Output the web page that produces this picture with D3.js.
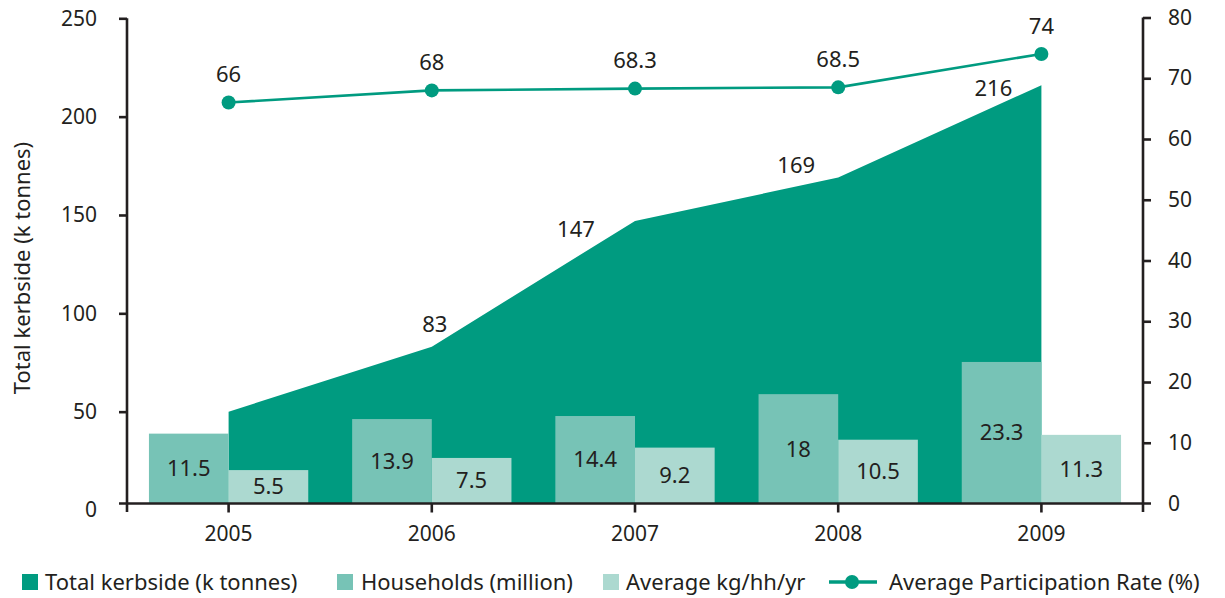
<!DOCTYPE html>
<html><head><meta charset="utf-8">
<script src="https://cdn.jsdelivr.net/npm/d3@7"></script>
<style>
body{margin:0;background:#fff}
text{font-family:"Noto Sans",sans-serif;fill:#231f20}
</style>
</head><body>
<svg id="c" width="1225" height="598"></svg>
<script>
// ---- data ----
const years = ["2005", "2006", "2007", "2008", "2009"];
const totalKerbside = [50, 83, 147, 169, 216];          // k tonnes (left axis)
const households = [11.5, 13.9, 14.4, 18, 23.3];         // million (right axis)
const avgKg = [5.5, 7.5, 9.2, 10.5, 11.3];               // kg/hh/yr (right axis)
const participation = [66, 68, 68.3, 68.5, 74];          // % (right axis)
const leftTicks = [0, 50, 100, 150, 200, 250];
const rightTicks = [0, 10, 20, 30, 40, 50, 60, 70, 80];
const totalLabelShown = [false, true, true, true, true];
const legendLabels = ["Total kerbside (k tonnes)", "Households (million)", "Average kg/hh/yr", "Average Participation Rate (%)"];

// ---- layout / style (not data) ----
const totalLabelOffsets = [[0, 0], [3, -22], [-59, 8], [-42, -12], [-48, 3]];
const C = {area: "#009b80", hh: "#77c3b6", avg: "#acd9d0", line: "#009b80", ink: "#231f20"};
const FS = 22, FT = 21;

const svg = d3.select("#c");
const x = d3.scaleBand().domain(years).range([127, 1143]);
const cx = d => x(d) + x.bandwidth() / 2;
const yL = d3.scaleLinear().domain([0, 250]).range([510, 18.3]);
const yR = d3.scaleLinear().domain([0, 80]).range([503.5, 17.5]);
const base = yR(0);
const barW = x.bandwidth() * 0.392;

// area
const area = d3.area().x((d, i) => cx(years[i])).y0(base).y1(d => yL(d));
svg.append("path").datum(totalKerbside).attr("d", area).attr("fill", C.area);

// bars
svg.append("g").selectAll("rect").data(households).join("rect")
  .attr("x", (d, i) => cx(years[i]) - barW).attr("width", barW)
  .attr("y", d => yR(d)).attr("height", d => base - yR(d)).attr("fill", C.hh);
svg.append("g").selectAll("rect").data(avgKg).join("rect")
  .attr("x", (d, i) => cx(years[i])).attr("width", barW)
  .attr("y", d => yR(d)).attr("height", d => base - yR(d)).attr("fill", C.avg);

// bar labels
svg.append("g").selectAll("text").data(households).join("text")
  .attr("x", (d, i) => cx(years[i]) - barW / 2).attr("y", d => (yR(d) + base) / 2)
  .attr("dy", "0.35em").attr("text-anchor", "middle").attr("font-size", FS).text(d => d);
svg.append("g").selectAll("text").data(avgKg).join("text")
  .attr("x", (d, i) => cx(years[i]) + barW / 2).attr("y", d => (yR(d) + base) / 2)
  .attr("dy", "0.35em").attr("text-anchor", "middle").attr("font-size", FS).text(d => d);

// axes
const sw = 2.6;
const gl = svg.append("g").attr("transform", "translate(127,0)")
  .call(d3.axisLeft(yL).tickValues(leftTicks).tickSize(8).tickPadding(22).tickSizeOuter(0));
const gr = svg.append("g").attr("transform", "translate(1143,0)")
  .call(d3.axisRight(yR).tickValues(rightTicks).tickSize(8).tickPadding(17).tickSizeOuter(0));
const gx = svg.append("g").attr("transform", `translate(0,${base})`)
  .call(d3.axisBottom(x).tickSize(9).tickPadding(14).tickSizeOuter(0));
[gl, gr, gx].forEach(g => {
  g.select(".domain").remove();
  g.selectAll("line").attr("stroke", C.ink).attr("stroke-width", sw);
  g.selectAll("text").attr("font-size", FT).attr("font-family", '"Noto Sans",sans-serif').attr("fill", C.ink);
});
gl.selectAll(".tick").filter(d => d === 0).select("line").remove();
gr.selectAll(".tick").filter(d => d === 0).select("line").remove();
svg.append("line").attr("x1", 127).attr("x2", 127).attr("y1", yL(250)).attr("y2", 512)
  .attr("stroke", C.ink).attr("stroke-width", sw);
svg.append("line").attr("x1", 1143).attr("x2", 1143).attr("y1", yR(80)).attr("y2", 512)
  .attr("stroke", C.ink).attr("stroke-width", sw);
svg.append("line").attr("x1", 119).attr("x2", 1151).attr("y1", base).attr("y2", base)
  .attr("stroke", C.ink).attr("stroke-width", sw);

// participation line
const line = d3.line().x((d, i) => cx(years[i])).y(d => yR(d));
svg.append("path").datum(participation).attr("d", line)
  .attr("fill", "none").attr("stroke", C.line).attr("stroke-width", 2.6);
svg.append("g").selectAll("circle").data(participation).join("circle")
  .attr("cx", (d, i) => cx(years[i])).attr("cy", d => yR(d)).attr("r", 7).attr("fill", C.line);
svg.append("g").selectAll("text").data(participation).join("text")
  .attr("x", (d, i) => cx(years[i])).attr("y", d => yR(d) - 28)
  .attr("dy", "0.35em").attr("text-anchor", "middle").attr("font-size", FS).text(d => d);

// total labels
svg.append("g").selectAll("text").data(totalKerbside.map((v, i) => ({v, i})).filter(d => totalLabelShown[d.i]))
  .join("text")
  .attr("x", d => cx(years[d.i]) + totalLabelOffsets[d.i][0])
  .attr("y", d => yL(d.v) + totalLabelOffsets[d.i][1])
  .attr("dy", "0.35em").attr("text-anchor", "middle").attr("font-size", FS).text(d => d.v);

// y title
svg.append("text").attr("transform", "translate(22,268) rotate(-90)")
  .attr("dy", "0.35em").attr("text-anchor", "middle").attr("font-size", FS).text("Total kerbside (k tonnes)");

// legend
const ly = 582;
const leg = svg.append("g");
const sq = [[22, 45, C.area], [337, 361, C.hh], [603, 626, C.avg]];
sq.forEach(([lx, tx, col], i) => {
  leg.append("rect").attr("x", lx).attr("y", ly - 8).attr("width", 16).attr("height", 16).attr("fill", col);
  leg.append("text").attr("x", tx).attr("y", ly).attr("dy", "0.35em").attr("font-size", FS).text(legendLabels[i]);
});
leg.append("line").attr("x1", 829).attr("x2", 877).attr("y1", ly).attr("y2", ly)
  .attr("stroke", C.line).attr("stroke-width", 3.5);
leg.append("circle").attr("cx", 852).attr("cy", ly).attr("r", 7).attr("fill", C.line);
leg.append("text").attr("x", 889).attr("y", ly).attr("dy", "0.35em").attr("font-size", FS).text(legendLabels[3]);
</script>
</body></html>
